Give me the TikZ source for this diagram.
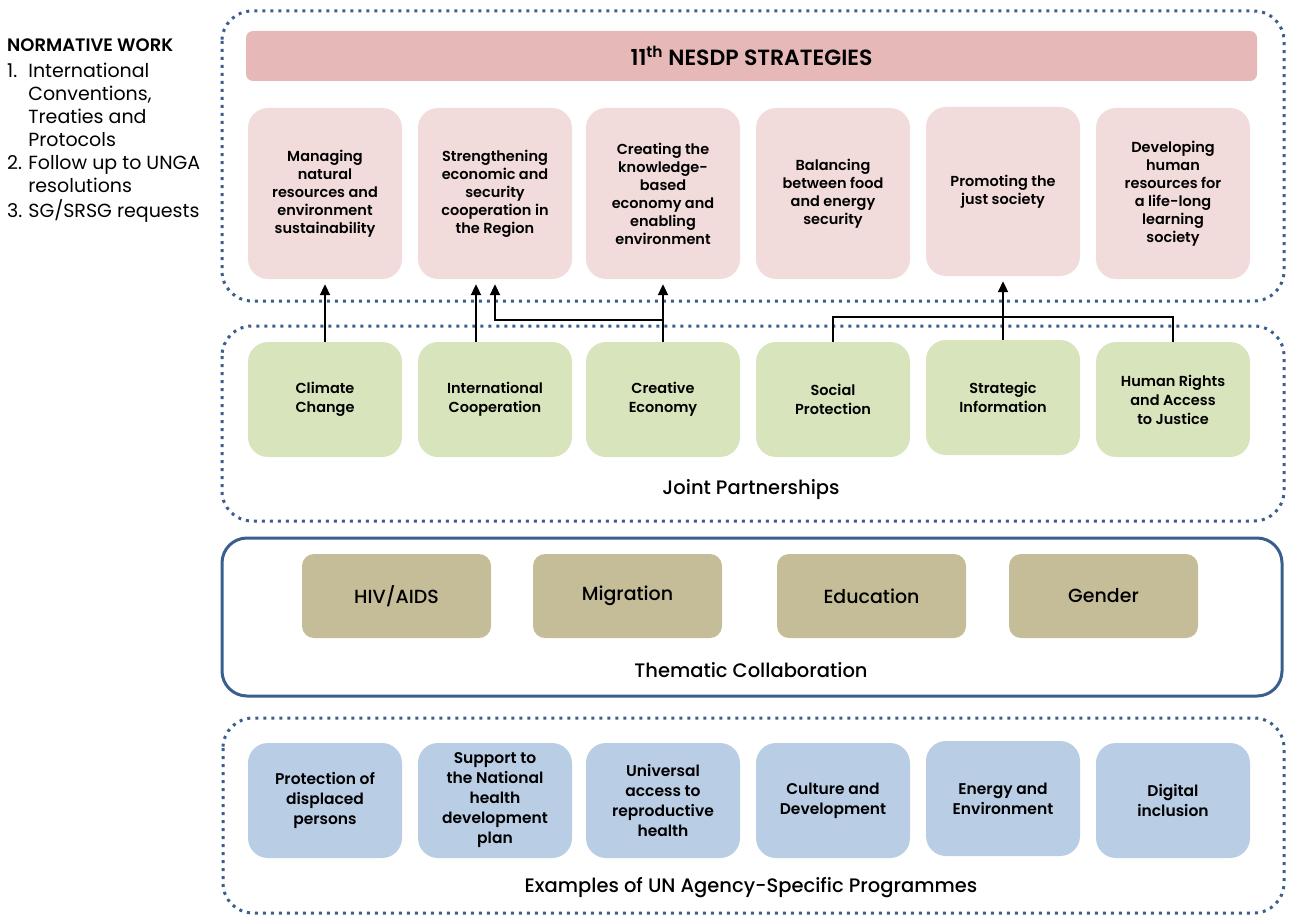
\documentclass[tikz,border=0pt]{standalone}
\usepackage{fontspec}
\setmainfont{Poppins}[BoldFont={Poppins SemiBold}]
\newfontfamily\medfont{Poppins Medium}
\usetikzlibrary{positioning}
\usetikzlibrary{arrows.meta}
\definecolor{frame}{RGB}{58, 95, 143}
\definecolor{head}{RGB}{230, 184, 183}
\definecolor{strat}{RGB}{242, 220, 219}
\definecolor{joint}{RGB}{216, 228, 188}
\definecolor{theme}{RGB}{196, 189, 151}
\definecolor{agency}{RGB}{185, 205, 229}

\begin{document}
\begin{tikzpicture}[every node/.style={inner sep=0pt},
  dotframe/.style={draw=frame, line width=3pt, dash pattern=on 3pt off 5pt, rounded corners=30pt},
  solidframe/.style={draw=frame, line width=3pt, rounded corners=25pt},
  stratbox/.style={rounded corners=20pt, fill=strat, minimum width=154pt, minimum height=171pt, align=center, font=\fontsize{14.5}{18}\selectfont\bfseries},
  jointbox/.style={rounded corners=20pt, fill=joint, minimum width=154pt, minimum height=115pt, align=center, font=\fontsize{14.5}{19}\selectfont\bfseries},
  themebox/.style={rounded corners=12pt, fill=theme, minimum width=189pt, minimum height=84pt, align=center, font=\fontsize{19}{22}\medfont},
  agencybox/.style={rounded corners=20pt, fill=agency, minimum width=154pt, minimum height=115pt, align=center, font=\fontsize{15.5}{20}\selectfont\bfseries},
  tierlabel/.style={font=\fontsize{19.5}{22}\medfont},
  link/.style={line width=2pt, color=black},
  arrow/.style={link, -{Triangle[width=10pt, length=11pt]}, shorten >=5pt}]
\useasboundingbox (0pt, 0pt) rectangle (1289pt, -915pt);

% normative work
\node (norm) [anchor=north west, font=\fontsize{19}{23}\selectfont] at (7pt, -35pt) {%
  \begin{tabular}{@{}l@{\hspace{6pt}}l@{}}
  \multicolumn{2}{@{}l@{}}{\fontsize{18}{23}\selectfont\bfseries NORMATIVE WORK}\\[3pt]
  1. & International\\
     & Conventions,\\
     & Treaties and\\
     & Protocols\\
  2. & Follow up to UNGA\\
     & resolutions\\
  3. & SG/SRSG requests
  \end{tabular}};

% frames
\draw [dotframe] (222pt, -11pt) rectangle (1284pt, -301pt);
\draw [dotframe] (222pt, -326pt) rectangle (1284pt, -521pt);
\draw [solidframe] (222pt, -538pt) rectangle (1282pt, -696pt);
\draw [dotframe] (223pt, -718pt) rectangle (1284pt, -913pt);

% 11th NESDP strategies
\node (head) [rounded corners=7pt, fill=head, minimum width=1011pt, minimum height=50pt, font=\fontsize{22}{24}\selectfont\bfseries] at (751.5pt, -56pt) {11\textsuperscript{th} NESDP STRATEGIES};
\node (s1) [stratbox] at (325pt, -193.5pt) {Managing\\natural\\resources and\\environment\\sustainability};
\node (s2) [stratbox] at (495pt, -193.5pt) {Strengthening\\economic and\\security\\cooperation in\\the Region};
\node (s3) [stratbox] at (663pt, -193.5pt) {Creating the\\knowledge-\\based\\economy and\\enabling\\environment};
\node (s4) [stratbox] at (833pt, -193.5pt) {Balancing\\between food\\and energy\\security};
\node (s5) [stratbox, minimum height=169pt] at (1003pt, -191.5pt) {Promoting the\\just society};
\node (s6) [stratbox] at (1173pt, -193.5pt) {Developing\\human\\resources for\\a life-long\\learning\\society};

% joint partnerships
\node (cc) [jointbox] at (325pt, -399.5pt) {Climate\\Change};
\node (ic) [jointbox] at (495pt, -399.5pt) {International\\Cooperation};
\node (ce) [jointbox] at (663pt, -399.5pt) {Creative\\Economy};
\node (sp) [jointbox] at (833pt, -399.5pt) {Social\\Protection};
\node (si) [jointbox] at (1003pt, -397.5pt) {Strategic\\Information};
\node (hr) [jointbox] at (1173pt, -399.5pt) {Human Rights\\and Access\\to Justice};
\node (jp) [tierlabel] at (751pt, -490pt) {Joint Partnerships};

\draw [arrow] (cc.north) to (s1.south);
\draw [arrow] ([xshift=-19pt]ic.north) to ([xshift=-19pt]s2.south);
\draw [arrow] (ce.north) to (s3.south);
\draw [arrow] ([yshift=22pt]ce.north) -| (s2.south);
\draw [link] (sp.north) -- ++(0pt, 25pt) -| (hr.north);
\draw [arrow] (si.north) to (s5.south);

% thematic collaboration
\node (hiv) [themebox] at (396.5pt, -596pt) {HIV/AIDS};
\node (mig) [themebox] at (627.5pt, -596pt) {Migration};
\node (edu) [themebox] at (871.5pt, -596pt) {Education};
\node (gen) [themebox] at (1103.5pt, -596pt) {Gender};
\node (tc) [tierlabel] at (751pt, -670pt) {Thematic Collaboration};

% agency-specific programmes
\node (a1) [agencybox] at (325pt, -800.5pt) {Protection of\\displaced\\persons};
\node (a2) [agencybox] at (495pt, -800.5pt) {Support to\\the National\\health\\development\\plan};
\node (a3) [agencybox] at (663pt, -800.5pt) {Universal\\access to\\reproductive\\health};
\node (a4) [agencybox] at (833pt, -800.5pt) {Culture and\\Development};
\node (a5) [agencybox] at (1003pt, -798.5pt) {Energy and\\Environment};
\node (a6) [agencybox] at (1173pt, -800.5pt) {Digital\\inclusion};
\node (ex) [tierlabel] at (751pt, -888pt) {Examples of UN Agency-Specific Programmes};
\end{tikzpicture}
\end{document}
